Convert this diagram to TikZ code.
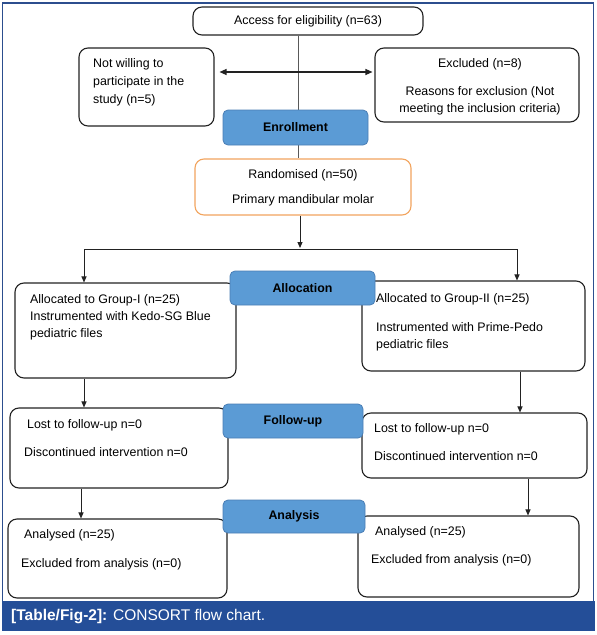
\documentclass[tikz,border=0pt]{standalone}
\usepackage{fontspec}
\setmainfont{Liberation Sans}
\usetikzlibrary{arrows.meta}
\pgfdeclarelayer{bg}
\pgfsetlayers{bg,main}
\definecolor{lab}{HTML}{5B9BD5}
\definecolor{labd}{HTML}{4A7EB5}
\definecolor{orng}{HTML}{F2A45E}
\definecolor{framec}{HTML}{2C4E8E}
\definecolor{capb}{HTML}{244E98}
\definecolor{boxc}{HTML}{222222}
\begin{document}
\begin{tikzpicture}[x=1pt,y=-1pt,
  box/.style={draw=boxc, line width=1.1pt, rounded corners=9pt, fill=white, inner sep=0pt},
  obox/.style={box, draw=orng},
  labbox/.style={draw=labd, fill=lab, line width=0.8pt, rounded corners=5pt,
     font=\bfseries\fontsize{12.4}{15}\selectfont, inner sep=0pt},
  txt/.style={font=\fontsize{12.4}{17}\selectfont, inner sep=0pt, anchor=north west, align=left},
  ctxt/.style={txt, anchor=north, align=center},
  arr/.style={line width=1pt, draw=boxc, -{Triangle[length=6pt,width=5pt]}},
  dbl/.style={line width=1.2pt, draw=boxc, {Triangle[length=7pt,width=6pt]}-{Triangle[length=7pt,width=6pt]}},
  thin/.style={line width=0.7pt, draw=black!65}
]
\useasboundingbox (0,0) rectangle (597,635);
\begin{pgfonlayer}{bg}
\fill[white] (0,0) rectangle (597,635);
\draw[framec, line width=1.2pt] (2.5,601) -- (2.5,3) -- (593.5,3) -- (593.5,601);
\fill[capb] (2,601) rectangle (594.5,631);
\end{pgfonlayer}

% boxes
\node[box, minimum width=230pt, minimum height=28pt, font=\fontsize{12.4}{15}\selectfont] (access) at (308,21) {Access for eligibility (n=63)};
\node[box, minimum width=135pt, minimum height=78pt] (notw) at (146.5,87) {};
\node[box, minimum width=204pt, minimum height=74pt] (excl) at (477,85) {};
\node[obox, minimum width=216pt, minimum height=56pt] (rand) at (303,187) {};
\node[box, minimum width=221pt, minimum height=95pt] (g1) at (125.5,330.5) {};
\node[box, minimum width=223pt, minimum height=90pt] (g2) at (473.5,326) {};
\node[box, minimum width=218pt, minimum height=80pt] (fu1) at (119,448) {};
\node[box, minimum width=225pt, minimum height=65pt] (fu2) at (474.5,445.5) {};
\node[box, minimum width=219pt, minimum height=79pt] (an1) at (117.5,558.5) {};
\node[box, minimum width=221pt, minimum height=81pt] (an2) at (468.5,556.5) {};

% connectors
\coordinate (sl) at (84,249);
\coordinate (sm) at (300,249);
\coordinate (sr) at (517,249);
\begin{pgfonlayer}{bg}
\draw[thin] ([xshift=-10pt]access.south) -- ([xshift=-5pt]rand.north);
\end{pgfonlayer}
\draw[dbl] ([xshift=5pt,yshift=15pt]notw.east) -- ([xshift=-2pt,yshift=13pt]excl.west);
\draw[arr] (rand.south -| sm) -- ([yshift=1pt]sm);
\draw[line width=1pt, boxc] (sl) -- (sr);
\draw[arr] (sl) -- (sl |- g1.north);
\draw[arr] (sr) -- (sr |- g2.north);
\draw[arr] ([xshift=-41.5pt]g1.south) -- ([xshift=-35pt]fu1.north);
\draw[arr] ([xshift=-38pt]fu1.south) -- ([xshift=-36.5pt]an1.north);
\draw[arr] ([xshift=46.5pt]g2.south) -- ([xshift=45.5pt]fu2.north);
\draw[arr] ([xshift=53.5pt]fu2.south) -- ([xshift=59.5pt]an2.north);

% label boxes
\node[labbox, minimum width=145pt, minimum height=35pt] (enroll) at (295.5,127.5) {Enrollment};
\node[labbox, minimum width=145pt, minimum height=34pt] (alloc) at (302.5,288) {Allocation};
\node[labbox, minimum width=140pt, minimum height=34pt] (fulab) at (293,421) {Follow-up};
\node[labbox, minimum width=142pt, minimum height=33pt] (anlab) at (294,516.5) {Analysis};

% texts
\node[txt, font=\fontsize{12.4}{18}\selectfont] (notwt) at (93,58.5) {Not willing to\\participate in the\\study (n=5)};
\node[ctxt] (exclt) at (480,58.5) {Excluded (n=8)\\[11pt]Reasons for exclusion (Not\\meeting the inclusion criteria)};
\node[ctxt] (randt) at (303,169.5) {Randomised (n=50)\\[8pt]Primary mandibular molar};
\node[txt] (g1t) at (30,294.5) {Allocated to Group-I (n=25)\\Instrumented with Kedo-SG Blue\\pediatric files};
\node[txt] (g2t) at (376,293.5) {Allocated to Group-II (n=25)\\[12pt]Instrumented with Prime-Pedo\\pediatric files};
\node[txt] (fu1t) at (24,419.5) {\hspace*{3pt}Lost to follow-up n=0\\[11pt]Discontinued intervention n=0};
\node[txt] (fu2t) at (374,423.5) {Lost to follow-up n=0\\[11pt]Discontinued intervention n=0};
\node[txt] (an1t) at (21,529.5) {\hspace*{3pt}Analysed (n=25)\\[12pt]Excluded from analysis (n=0)};
\node[txt] (an2t) at (371,526.5) {\hspace*{4pt}Analysed (n=25)\\[11pt]Excluded from analysis (n=0)};

% caption
\node[anchor=west, inner sep=0pt, text=white, font=\fontsize{15.5}{18}\selectfont] (cap) at (11,617) {\textbf{[Table/Fig-2]:} CONSORT flow chart.};
\end{tikzpicture}
\end{document}
